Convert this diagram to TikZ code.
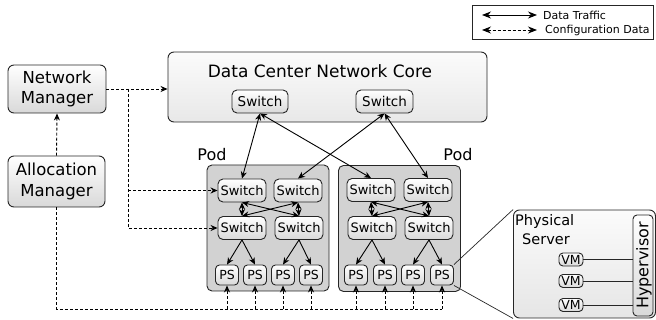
\documentclass[tikz,border=0pt]{standalone}
\usepackage{fontspec}
\setmainfont{DejaVu Sans}
\usetikzlibrary{arrows.meta,calc}
\begin{document}
\begin{tikzpicture}[x=1pt,y=-1pt,
 box/.style={draw=black!85,line width=0.9pt,rounded corners=4pt,top color=white,bottom color=gray!30,inner sep=0pt,align=center},
 sw/.style={box,minimum width=48pt,minimum height=23pt,rounded corners=5pt,font=\fontsize{13}{14}\selectfont},
 ps/.style={box,minimum width=23pt,minimum height=20pt,font=\fontsize{12.5}{14}\selectfont},
 vm/.style={box,minimum width=24pt,minimum height=13pt,rounded corners=4pt,font=\fontsize{12.5}{14}\selectfont},
 mgr/.style={box,rounded corners=6pt,font=\fontsize{16.5}{20.5}\selectfont},
 pod/.style={draw=black!85,line width=0.9pt,rounded corners=5pt,fill=gray!35,minimum width=122pt,minimum height=126pt},
 data/.style={line width=0.9pt,{Stealth[length=7pt,width=6pt]}-{Stealth[length=7pt,width=6pt]}},
 down/.style={line width=0.9pt,-{Stealth[length=7pt,width=6pt]}},
 cfg/.style={line width=0.9pt,dash pattern=on 3pt off 2pt},
 cfgarr/.style={cfg,-{Stealth[length=7pt,width=6pt]}},
 legdata/.style={line width=0.9pt,{Stealth[length=9pt,width=7pt]}-{Stealth[length=9pt,width=7pt]}},
 legcfg/.style={cfg,{Stealth[length=9pt,width=7pt]}-{Stealth[length=9pt,width=7pt]}},
]
\useasboundingbox (0,0) rectangle (656,320);

% legend
\node[draw=black!85,line width=0.9pt,minimum width=181pt,minimum height=34pt,inner sep=0pt] (leg) at (562.5,22) {};
\coordinate (l1a) at (482,15); \coordinate (l1b) at (537,15);
\coordinate (l2a) at (482,30); \coordinate (l2b) at (537,30);
\draw[legdata] (l1a) -- (l1b);
\draw[legcfg] (l2a) -- (l2b);
\node[anchor=west,inner sep=0pt,font=\fontsize{11}{13}\selectfont] (lt1) at (543,15) {Data Traffic};
\node[anchor=west,inner sep=0pt,font=\fontsize{11}{13}\selectfont] (lt2) at (545,30) {Configuration Data};

% managers
\node[mgr,minimum width=98pt,minimum height=48pt] (nm) at (57,89) {Network\\Manager};
\node[mgr,minimum width=97pt,minimum height=51pt] (am) at (56.5,181.5) {Allocation\\Manager};

% core
\node[box,rounded corners=6pt,top color=gray!3,bottom color=gray!18,minimum width=319pt,minimum height=70pt] (core) at (327.5,87) {};
\node[anchor=base,inner sep=0pt,font=\fontsize{17}{20}\selectfont] (title) at (320,77.5) {Data Center Network Core};
\node[sw,minimum width=56pt,font=\fontsize{13.5}{15}\selectfont] (cs1) at (260,101.5) {Switch};
\node[sw,minimum width=57pt,font=\fontsize{13.5}{15}\selectfont] (cs2) at (384.5,101.5) {Switch};

% pods
\node[font=\fontsize{16}{18}\selectfont] (podl1) at (212,155) {Pod};
\node[font=\fontsize{16}{18}\selectfont] (podl2) at (458,155) {Pod};
\node[pod] (pod1) at (268,228) {};
\node[pod] (pod2) at (399.5,228.5) {};

\node[sw] (p1tl) at (242,190.5) {Switch};
\node[sw] (p1tr) at (298,190.5) {Switch};
\node[sw] (p1bl) at (242,228) {Switch};
\node[sw] (p1br) at (299,228) {Switch};
\node[sw] (p2tl) at (371,190) {Switch};
\node[sw] (p2tr) at (428,190) {Switch};
\node[sw] (p2bl) at (372,228) {Switch};
\node[sw] (p2br) at (429,228) {Switch};

\node[ps] (p1ps1) at (227,275) {PS};
\node[ps] (p1ps2) at (255,275) {PS};
\node[ps] (p1ps3) at (283,275) {PS};
\node[ps] (p1ps4) at (311,275) {PS};
\node[ps] (p2ps1) at (356,275) {PS};
\node[ps] (p2ps2) at (385,275) {PS};
\node[ps] (p2ps3) at (413,275) {PS};
\node[ps] (p2ps4) at (442,275) {PS};

% core links
\draw[data] (cs1.south) -- (p1tl.north);
\draw[data] (cs1.south) -- (p2tl.north);
\draw[data] (cs2.south) -- (p1tr.north);
\draw[data] (cs2.south) -- (p2tr.north);

% pod internal links
\foreach \p in {p1,p2}{
  \draw[data] (\p tl.south) -- (\p bl.north);
  \draw[data] (\p tr.south) -- (\p br.north);
  \draw[data] (\p tl.south) -- (\p br.north);
  \draw[data] (\p tr.south) -- (\p bl.north);
  \draw[down] (\p bl.south) -- (\p ps1.north);
  \draw[down] (\p bl.south) -- (\p ps2.north);
  \draw[down] (\p br.south) -- (\p ps3.north);
  \draw[down] (\p br.south) -- (\p ps4.north);
}

% configuration links
\coordinate (busx) at (128,0);
\coordinate (busy) at (0,309);
\draw[cfgarr] (am.north) -- (nm.south);
\draw[cfgarr] (nm.east) -- (nm.east -| core.west);
\draw[cfgarr] (nm.east -| busx) |- (p1bl.west);
\draw[cfgarr] (p1tl.west -| busx) -- (p1tl.west);
\draw[cfg] (am.south) |- (busy -| p2ps4.south);
\foreach \p in {p1ps1,p1ps2,p1ps3,p1ps4,p2ps1,p2ps2,p2ps3,p2ps4}{
  \draw[cfgarr] (busy -| \p.south) -- (\p.south);
}

% physical server
\node[box,rounded corners=6pt,top color=gray!3,bottom color=gray!20,minimum width=142pt,minimum height=108pt] (srv) at (584.5,264) {};
\draw[line width=0.7pt,black!85] (p2ps4.north east) -- (srv.north west);
\draw[line width=0.7pt,black!85] (p2ps4.south east) -- (srv.south west);
\node[anchor=base west,inner sep=0pt,font=\fontsize{14.5}{16}\selectfont] (phys) at (515,226) {Physical};
\node[anchor=base west,inner sep=0pt,font=\fontsize{14.5}{16}\selectfont] (servt) at (522,245) {Server};
\node[box,minimum width=20pt,minimum height=101pt] (hyp) at (643,265.5) {};
\node[rotate=90,inner sep=0pt,font=\fontsize{16}{18}\selectfont] (hypt) at (644,265.5) {Hypervisor};
\node[vm] (vm1) at (571,259.5) {VM};
\node[vm] (vm2) at (571,281) {VM};
\node[vm] (vm3) at (571,305) {VM};
\foreach \v in {vm1,vm2,vm3}{
  \draw[line width=0.8pt,black!85] (\v.east) -- (\v.east -| hyp.west);
}
\end{tikzpicture}
\end{document}
